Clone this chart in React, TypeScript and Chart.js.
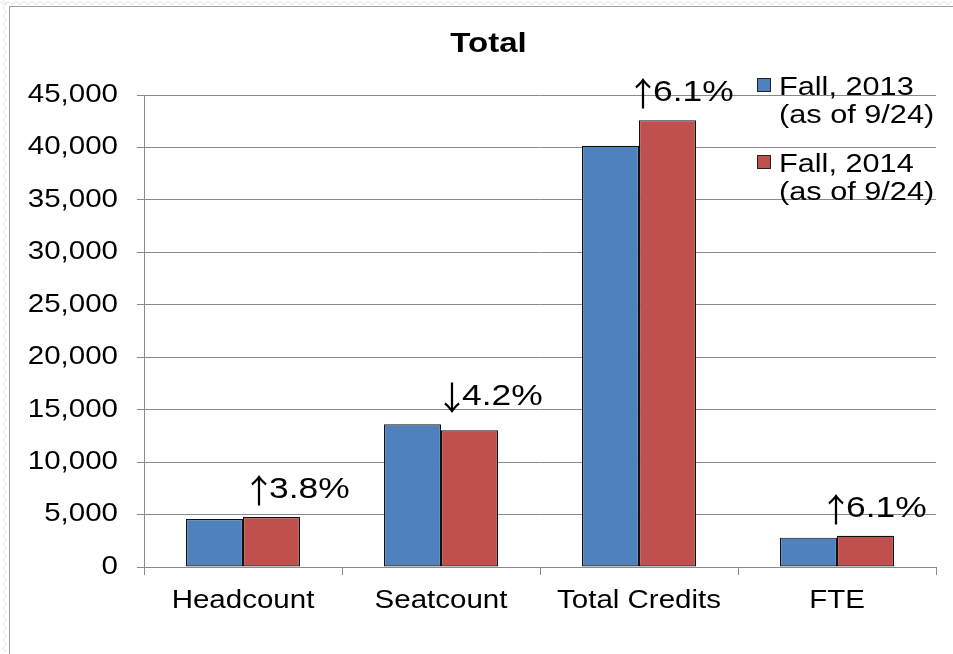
import React, { useEffect, useRef } from "react";
import { Chart, registerables } from "chart.js";

Chart.register(...registerables);

// ---- data ----
const chartTitle = "Total";
const categories = ["Headcount", "Seatcount", "Total Credits", "FTE"];
const fall2013 = [4580, 13600, 40150, 2800];
const fall2014 = [4760, 13030, 42600, 2970];
const seriesNames = ["Fall, 2013 (as of 9/24)", "Fall, 2014 (as of 9/24)"];
const legendLines = [
  ["Fall, 2013", "(as of 9/24)"],
  ["Fall, 2014", "(as of 9/24)"],
];
const changeLabels = ["↑3.8%", "↓4.2%", "↑6.1%", "↑6.1%"];
const yMin = 0;
const yMax = 45000;
const yStep = 5000;

// ---- style ----
const BLUE = "#4F81BD";
const RED = "#C0504D";
const GRID = "#8a8a8a";
const FONT = '"Liberation Sans", Arial, sans-serif';
const ARROW_FONT = '"Noto Sans CJK SC", "Liberation Sans", sans-serif';
const SX = 1.18; // horizontal text stretch of the reference
const changeDx = [16, 11, 4, -1]; // arrow position relative to category centre

function drawText(
  ctx: CanvasRenderingContext2D,
  text: string,
  x: number,
  y: number,
  size: number,
  align: CanvasTextAlign,
  baseline: CanvasTextBaseline,
  bold = false,
  color = "#000",
  family = FONT,
  sx = SX
) {
  ctx.save();
  ctx.font = `${bold ? "bold " : ""}${size}px ${family}`;
  ctx.fillStyle = color;
  ctx.textAlign = align;
  ctx.textBaseline = baseline;
  ctx.translate(x, y);
  ctx.scale(sx, 1);
  ctx.fillText(text, 0, 0);
  ctx.restore();
}

const decorPlugin = {
  id: "decor",
  beforeDraw(chart: any) {
    const ctx: CanvasRenderingContext2D = chart.ctx;
    const w = chart.width;
    const h = chart.height;
    ctx.save();
    ctx.fillStyle = "#fff";
    ctx.fillRect(0, 0, w, h);
    ctx.strokeStyle = "#e2e2e2";
    ctx.lineWidth = 1;
    ctx.beginPath();
    for (let x = 0; x <= w; x += 4) {
      const y = x % 8 === 0 ? 1.5 : 4.5;
      if (x === 0) ctx.moveTo(x, y);
      else ctx.lineTo(x, y);
    }
    ctx.stroke();
    ctx.beginPath();
    for (let y = 0; y <= h; y += 4) {
      const x = y % 8 === 0 ? 2.5 : 6.5;
      if (y === 0) ctx.moveTo(x, y);
      else ctx.lineTo(x, y);
    }
    ctx.stroke();
    ctx.strokeStyle = "#a0a0a0";
    ctx.beginPath();
    ctx.moveTo(9.5, h);
    ctx.lineTo(9.5, 6.5);
    ctx.lineTo(w, 6.5);
    ctx.stroke();
    ctx.restore();
  },
  afterDraw(chart: any) {
    const ctx: CanvasRenderingContext2D = chart.ctx;
    const area = chart.chartArea;
    const yScale = chart.scales.y;
    const xScale = chart.scales.x;

    // title
    drawText(ctx, chartTitle, chart.width / 2 + 12, 52, 28, "center", "alphabetic", true);

    // y tick labels
    yScale.ticks.forEach((t: any) => {
      const y = yScale.getPixelForValue(t.value);
      drawText(ctx, Number(t.value).toLocaleString("en-US"), area.left - 26, y, 25, "right", "middle");
    });

    // x labels
    categories.forEach((c, i) => {
      const x = xScale.getPixelForValue(i);
      drawText(ctx, c, x, 608, 25, "center", "alphabetic");
    });

    // legend inside plot, top right
    const colors = [BLUE, RED];
    const lx = area.right - 157;
    const sqx = area.right - 179;
    legendLines.forEach((lines, k) => {
      const base = area.top + k * 77;
      ctx.save();
      ctx.fillStyle = colors[k];
      ctx.fillRect(sqx, base - 17, 14, 14);
      ctx.strokeStyle = "#222";
      ctx.lineWidth = 1;
      ctx.strokeRect(sqx + 0.5, base - 16.5, 13, 13);
      ctx.restore();
      lines.forEach((ln, j) => {
        drawText(ctx, ln, lx, base + j * 28, 26, "left", "alphabetic");
      });
    });

    // change annotations
    const m0 = chart.getDatasetMeta(0);
    const m1 = chart.getDatasetMeta(1);
    changeLabels.forEach((lab, i) => {
      const b0: any = m0.data[i];
      const b1: any = m1.data[i];
      const top = Math.min(b0.y, b1.y);
      const ax = b1.x - b1.width / 2 + changeDx[i];
      const base = top - 19;
      const arrow = lab.charAt(0);
      const rest = lab.slice(1);
      drawText(ctx, arrow, ax, base + 5, 33, "center", "alphabetic", false, "#000", ARROW_FONT, 1);
      drawText(ctx, rest, ax + 10, base, 30, "left", "alphabetic");
    });
  },
};

export default function App() {
  const ref = useRef<HTMLCanvasElement | null>(null);

  useEffect(() => {
    if (!ref.current) return;
    const chart = new Chart(ref.current, {
      type: "bar",
      data: {
        labels: categories,
        datasets: [
          {
            label: seriesNames[0],
            data: fall2013,
            backgroundColor: BLUE,
            borderColor: "#111",
            borderWidth: 1.2,
            borderSkipped: false,
          },
          {
            label: seriesNames[1],
            data: fall2014,
            backgroundColor: RED,
            borderColor: "#111",
            borderWidth: 1.2,
            borderSkipped: false,
          },
        ],
      },
      options: {
        responsive: false,
        animation: false,
        events: [],
        layout: { padding: { top: 95, right: 17, left: 0, bottom: 0 } },
        datasets: { bar: { barPercentage: 1, categoryPercentage: 0.576 } },
        plugins: {
          legend: { display: false },
          title: { display: false },
          tooltip: { enabled: false },
        },
        scales: {
          x: {
            afterFit(scale: any) {
              scale.height = 87;
            },
            ticks: { display: false },
            grid: {
              offset: true,
              drawOnChartArea: false,
              drawTicks: true,
              tickLength: 8,
              color: GRID,
            },
            border: { display: true, color: GRID },
          },
          y: {
            min: yMin,
            max: yMax,
            afterFit(scale: any) {
              scale.width = 144;
            },
            ticks: { display: false, stepSize: yStep },
            grid: {
              color: GRID,
              drawTicks: true,
              tickLength: 7,
            },
            border: { display: true, color: GRID },
          },
        },
      },
      plugins: [decorPlugin],
    } as any);
    return () => chart.destroy();
  }, []);

  return (
    <div style={{ position: "absolute", left: 0, top: 0, width: 953, height: 654 }}>
      <canvas ref={ref} width={953} height={654} />
    </div>
  );
}
